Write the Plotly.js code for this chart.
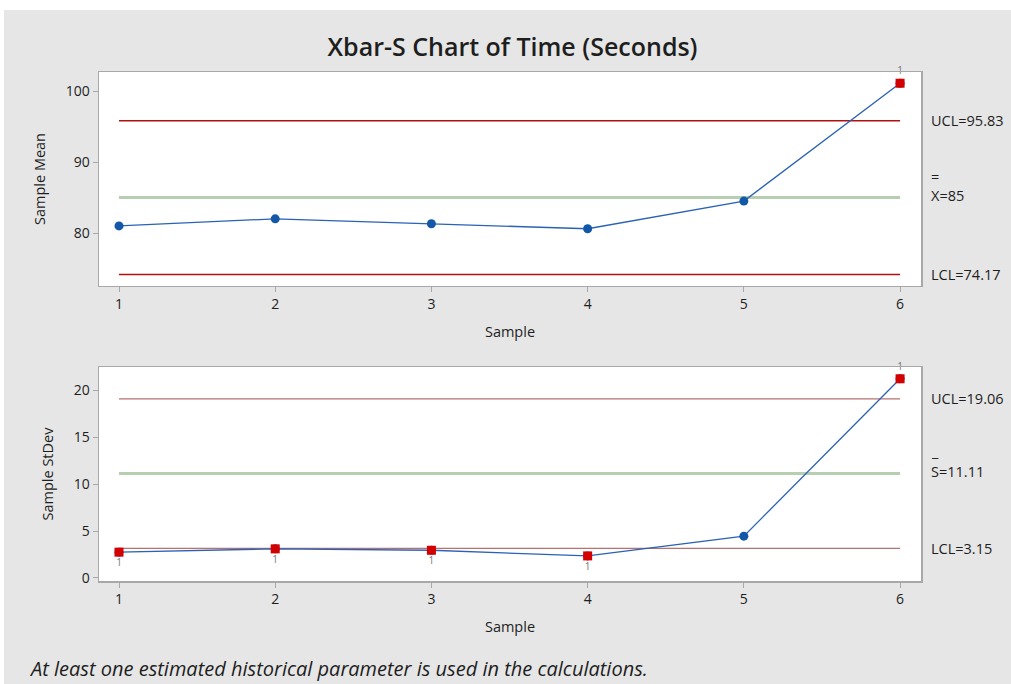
<!DOCTYPE html>
<html>
<head>
<meta charset="utf-8">
<script src="https://cdn.plot.ly/plotly-3.0.1.min.js"></script>
<style>
  html, body { margin: 0; padding: 0; background: #ffffff; width: 1011px; height: 684px; overflow: hidden; }
  #chart { position: absolute; left: 4px; top: 10px; width: 1007px; height: 674px; }
</style>
</head>
<body>
<div id="chart"></div>
<script>
// ---- data ----
const samples = [1, 2, 3, 4, 5, 6];
const sampleMeans = [81.0, 82.0, 81.3, 80.6, 84.5, 101.1];
const sampleStDevs = [2.75, 3.1, 2.95, 2.35, 4.45, 21.2];
const xbarLimits = { ucl: 95.83, cl: 85, lcl: 74.17 };
const sLimits = { ucl: 19.06, cl: 11.11, lcl: 3.15 };
const xbarFlagged = [6];
const sFlagged = [1, 2, 3, 4, 6];
const xTicks = [1, 2, 3, 4, 5, 6];
const meanTicks = [80, 90, 100];
const sdTicks = [0, 5, 10, 15, 20];

const FONT = "Open Sans, Noto Sans, sans-serif";
const BLUE = "#2a62b4";
const RED = "#d40000";
const LIMIT_RED = "#b01010";
const LIMIT_RED2 = "#b87070";
const GREEN = "#b7cfb0";
const TXT = "#1e1e1e";

function limitLine(y, color, width, xa, ya) {
  return { x: [samples[0], samples[samples.length - 1]], y: [y, y], mode: "lines",
    line: { color: color, width: width }, xaxis: xa, yaxis: ya, hoverinfo: "skip", showlegend: false };
}

function flaggedTrace(flags, values, xa, ya) {
  const xs = [], ys = [], pos = [];
  flags.forEach(s => {
    const i = samples.indexOf(s);
    xs.push(s); ys.push(values[i]);
    pos.push(i === samples.length - 1 ? "top center" : "bottom center");
  });
  return { x: xs, y: ys, mode: "markers+text", text: xs.map(() => "1"), textposition: pos,
    textfont: { family: FONT, size: 10, color: "#777" },
    marker: { symbol: "square", size: 9, color: RED }, xaxis: xa, yaxis: ya, showlegend: false, cliponaxis: false };
}

const traces = [
  limitLine(xbarLimits.ucl, LIMIT_RED, 1.5, "x", "y"),
  limitLine(xbarLimits.lcl, LIMIT_RED, 1.5, "x", "y"),
  limitLine(xbarLimits.cl, GREEN, 3, "x", "y"),
  { x: samples, y: sampleMeans, mode: "lines+markers", line: { color: BLUE, width: 1.3 },
    marker: { color: "#1257a8", size: 9, symbol: "circle" }, xaxis: "x", yaxis: "y", showlegend: false, cliponaxis: false },
  flaggedTrace(xbarFlagged, sampleMeans, "x", "y"),

  limitLine(sLimits.ucl, LIMIT_RED2, 1.3, "x2", "y2"),
  limitLine(sLimits.lcl, LIMIT_RED2, 1.3, "x2", "y2"),
  limitLine(sLimits.cl, GREEN, 3, "x2", "y2"),
  { x: samples, y: sampleStDevs, mode: "lines+markers", line: { color: BLUE, width: 1.3 },
    marker: { color: "#1257a8", size: 9, symbol: "circle" }, xaxis: "x2", yaxis: "y2", showlegend: false, cliponaxis: false },
  flaggedTrace(sFlagged, sampleStDevs, "x2", "y2")
];

const axisCommon = {
  showgrid: false, zeroline: false, showline: true, mirror: true, linecolor: "#a8a8a8", linewidth: 1.5,
  ticks: "outside", ticklen: 5, tickcolor: "#a8a8a8", tickfont: { family: FONT, size: 14, color: TXT }
};

function lim(text, y, xa, ya, shift) {
  return { text: text, x: 1.01, xref: xa + " domain", y: y, yref: ya, yshift: shift || 0, showarrow: false,
    xanchor: "left", font: { family: FONT, size: 14.5, color: TXT } };
}

const layout = {
  width: 1007, height: 674,
  paper_bgcolor: "#e6e6e6", plot_bgcolor: "#ffffff",
  margin: { l: 95, r: 90, t: 62, b: 103 },
  font: { family: FONT, color: TXT },
  title: { text: "Xbar-S Chart of Time (Seconds)", font: { family: FONT, size: 25, color: TXT, weight: 600 },
    x: 0.505, xanchor: "center", y: 0.945, yanchor: "middle" },
  xaxis: Object.assign({}, axisCommon, { range: [0.872, 6.134], tickvals: xTicks, anchor: "y",
    title: { text: "Sample", font: { family: FONT, size: 14.5 }, standoff: 14 } }),
  yaxis: Object.assign({}, axisCommon, { range: [72.54, 102.68], tickvals: meanTicks, domain: [0.5796, 1], anchor: "x",
    title: { text: "Sample Mean", font: { family: FONT, size: 14.5 }, standoff: 16 } }),
  xaxis2: Object.assign({}, axisCommon, { range: [0.872, 6.134], tickvals: xTicks, anchor: "y2",
    title: { text: "Sample", font: { family: FONT, size: 14.5 }, standoff: 14 } }),
  yaxis2: Object.assign({}, axisCommon, { range: [-0.32, 22.45], tickvals: sdTicks, domain: [0, 0.4204], anchor: "x2",
    title: { text: "Sample StDev", font: { family: FONT, size: 14.5 }, standoff: 16 } }),
  annotations: [
    lim("UCL=95.83", xbarLimits.ucl, "x", "y"),
    lim("X=85", xbarLimits.cl, "x", "y", 2),
    lim("=", xbarLimits.cl, "x", "y", 21),
    lim("LCL=74.17", xbarLimits.lcl, "x", "y"),
    lim("UCL=19.06", sLimits.ucl, "x2", "y2"),
    lim("S=11.11", sLimits.cl, "x2", "y2", 2),
    lim("_", sLimits.cl, "x2", "y2", 22),
    lim("LCL=3.15", sLimits.lcl, "x2", "y2"),
    { text: "<i>At least one estimated historical parameter is used in the calculations.</i>",
      x: (23 - 95) / (1007 - 95 - 90), xref: "paper", xanchor: "left",
      y: 0, yref: "paper", yshift: -87, yanchor: "middle", showarrow: false, font: { family: FONT, size: 20, color: TXT } }
  ]
};

Plotly.newPlot("chart", traces, layout, { displayModeBar: false, staticPlot: true });
</script>
</body>
</html>
